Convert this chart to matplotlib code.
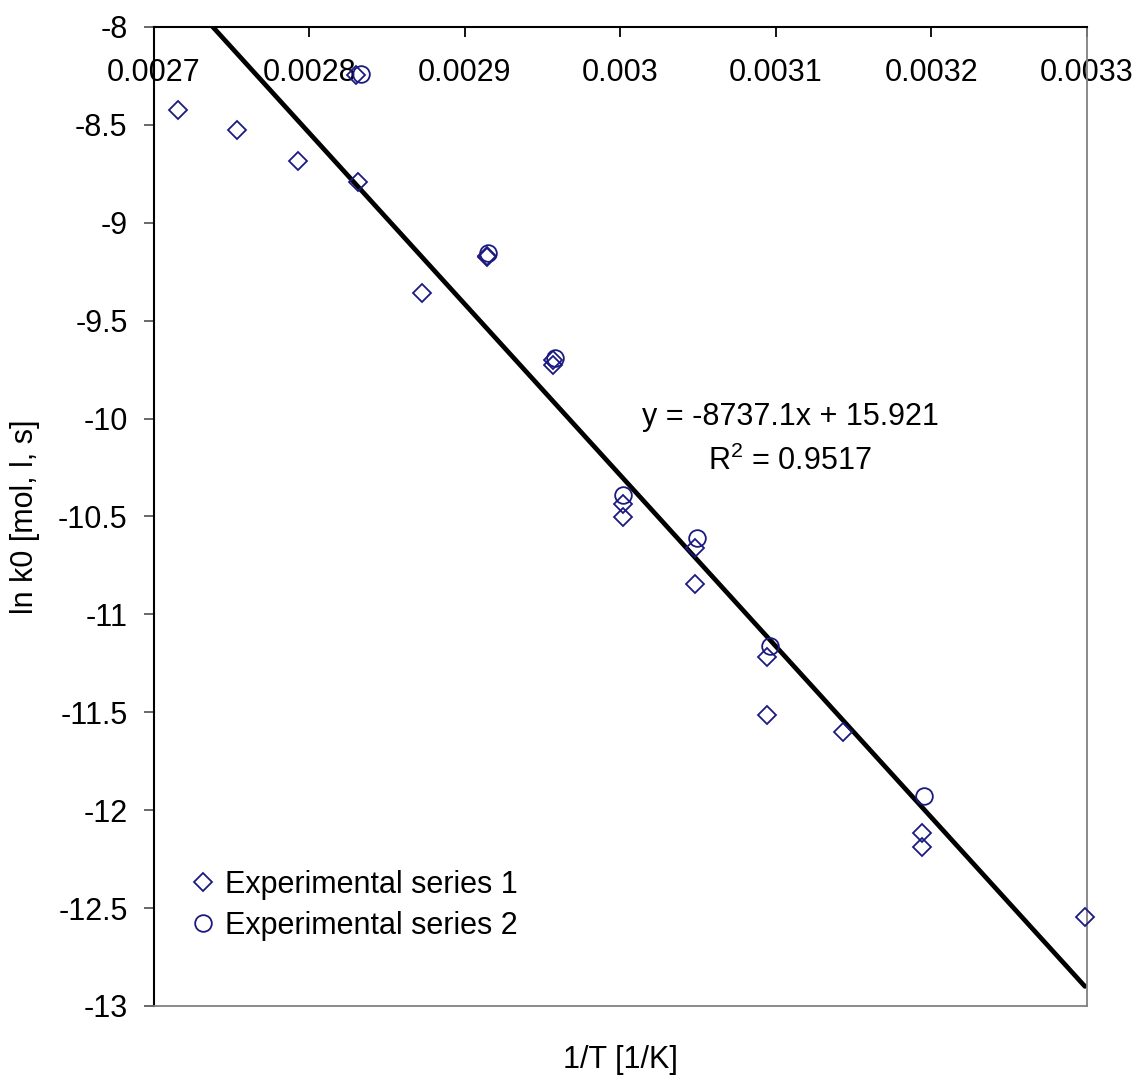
import matplotlib
matplotlib.use("Agg")
import matplotlib.pyplot as plt
import numpy as np

# ---- data ----
s1_x = [0.0027156, 0.0027534, 0.0027924, 0.0028314, 0.0028300, 0.0028721,
        0.0029143, 0.0029143, 0.0029568, 0.0029568, 0.0030018, 0.0030018,
        0.0030482, 0.0030482, 0.0030940, 0.0030940, 0.0031433, 0.0031939,
        0.0031939, 0.0032987]
s1_y = [-8.424, -8.526, -8.684, -8.790, -8.245, -9.360,
        -9.170, -9.175, -9.701, -9.726, -10.438, -10.501,
        -10.659, -10.846, -11.216, -11.514, -11.599, -12.118,
        -12.186, -12.547]
s2_x = [0.0028330, 0.0029150, 0.0029580, 0.0030018, 0.0030490, 0.0030961, 0.0031950]
s2_y = [-8.240, -9.153, -9.692, -10.390, -10.611, -11.161, -11.927]

slope = -8737.1
intercept = 15.921
r2 = 0.9517

x_ticks = [0.0027, 0.0028, 0.0029, 0.0030, 0.0031, 0.0032, 0.0033]
x_tick_labels = ['0.0027', '0.0028', '0.0029', '0.003', '0.0031', '0.0032', '0.0033']
y_ticks = [-13, -12.5, -12, -11.5, -11, -10.5, -10, -9.5, -9, -8.5, -8]
y_tick_labels = ['-13', '-12.5', '-12', '-11.5', '-11', '-10.5', '-10', '-9.5', '-9', '-8.5', '-8']

series_names = ['Experimental series 1', 'Experimental series 2']

# ---- style ----
plt.rcParams['font.family'] = ['Liberation Sans', 'DejaVu Sans']
plt.rcParams['mathtext.fontset'] = 'custom'
plt.rcParams['mathtext.rm'] = 'Liberation Sans'
plt.rcParams['mathtext.it'] = 'Liberation Sans:italic'
FS = 22
navy = '#1a1a80'

fig = plt.figure(figsize=(11.39, 10.75), dpi=100)
ax = fig.add_axes([0.1352, 0.0642, 0.8191, 0.9107])

ax.plot(s1_x, s1_y, linestyle='none', marker='D', markersize=9.5,
        markerfacecolor='none', markeredgecolor=navy, markeredgewidth=1.3,
        label=series_names[0], zorder=3, clip_on=False)
ax.plot(s2_x, s2_y, linestyle='none', marker='o', markersize=12,
        markerfacecolor='none', markeredgecolor=navy, markeredgewidth=1.3,
        label=series_names[1], zorder=3, clip_on=False)

all_x = np.array(s1_x + s2_x)
xl = np.array([all_x.min(), all_x.max()])
ax.plot(xl, slope * xl + intercept, color='black', linewidth=3.4,
        solid_capstyle='round', zorder=2)

ax.set_xlim(0.0027, 0.0033)
ax.set_ylim(-13, -8)

ax.set_xticks(x_ticks)
ax.set_xticklabels(x_tick_labels)
ax.set_yticks(y_ticks)
ax.set_yticklabels(y_tick_labels)

ax.xaxis.tick_top()
ax.tick_params(axis='x', top=True, bottom=False, labeltop=True, labelbottom=False,
               direction='in', length=7, width=1.3, pad=-44, labelsize=FS)
ax.tick_params(axis='y', left=True, right=False, direction='out', length=7,
               width=1.1, pad=12, labelsize=FS, color='#404040')

for side in ['left', 'top']:
    ax.spines[side].set_color('black')
    ax.spines[side].set_linewidth(1.5)
for side in ['right', 'bottom']:
    ax.spines[side].set_color('#808080')
    ax.spines[side].set_linewidth(1.3)

ax.set_xlabel('1/T [1/K]', fontsize=FS)
ax.xaxis.set_label_position('bottom')
ax.xaxis.labelpad = 28
ax.set_ylabel('ln k0 [mol, l, s]', fontsize=FS, labelpad=13)

ax.text(0.682, 0.602, 'y = -8737.1x + 15.921', transform=ax.transAxes,
        ha='center', va='center', fontsize=FS)
ax.text(0.682, 0.556, 'R$^2$ = 0.9517', transform=ax.transAxes,
        ha='center', va='center', fontsize=FS)

leg = ax.legend(loc='upper left', bbox_to_anchor=(0.0364, 0.139), frameon=False,
                fontsize=FS, handlelength=1.0, handletextpad=0.2,
                labelspacing=0.36, borderpad=0, borderaxespad=0, markerscale=1.0)

fig.savefig('out.png', dpi=100)
